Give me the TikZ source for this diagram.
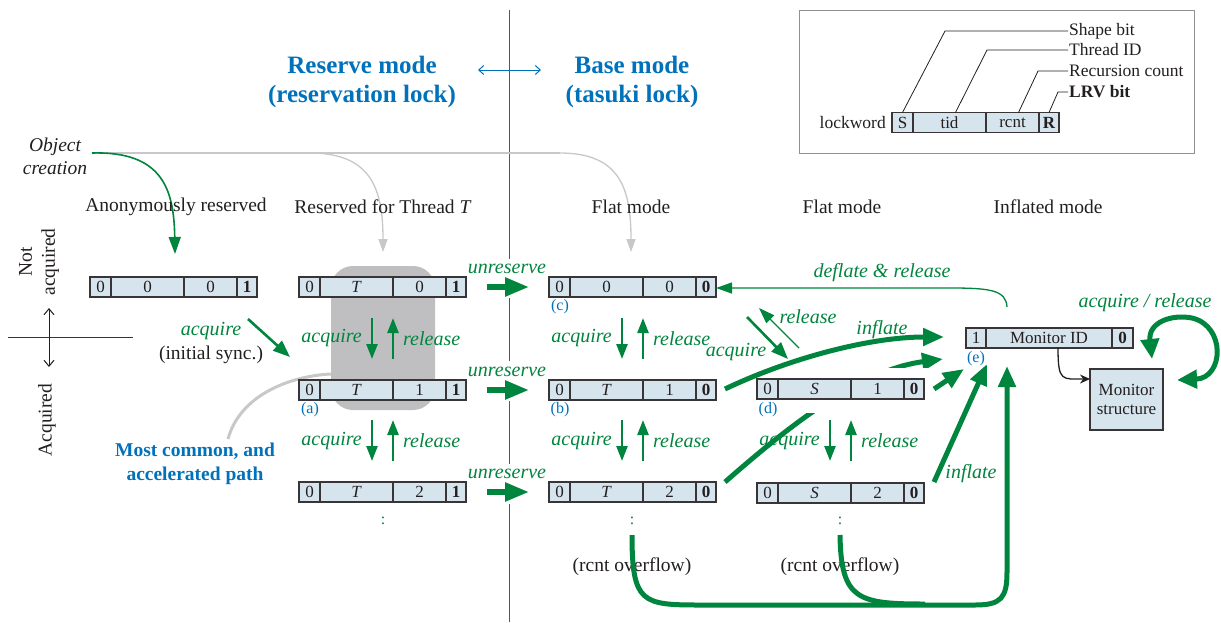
\documentclass[tikz,border=0pt]{standalone}
\usepackage{fontspec}
\setmainfont{Liberation Serif}
\usetikzlibrary{arrows.meta,calc}
\definecolor{grn}{RGB}{0,133,62}
\definecolor{blu}{RGB}{0,114,188}
\definecolor{cellfill}{RGB}{214,228,238}
\definecolor{rgray}{RGB}{191,191,193}
\definecolor{lgray}{RGB}{200,200,200}
\definecolor{txt}{RGB}{35,31,32}
\newcommand\lockwd[7]{%
  \node[cell,minimum width=21pt] (#1-1) at (#2,#3) {#4};
  \node[cell,minimum width=73pt] (#1-2) at (#1-1.east) {#5};
  \node[cell,minimum width=53pt] (#1-3) at (#1-2.east) {#6};
  \node[cell,minimum width=20pt] (#1-4) at (#1-3.east) {#7};
}
\tikzset{
  cell/.style={draw=txt!90, fill=cellfill, line width=1.3pt, minimum height=20pt, inner sep=0pt, outer sep=0pt, anchor=west, text=txt, font=\fontsize{17}{18.5}\selectfont},
  hdr/.style={text=txt, font=\fontsize{19.5}{23}\selectfont},
  glab/.style={text=grn, font=\fontsize{20}{22}\selectfont\itshape, inner sep=1pt},
  tag/.style={text=blu, font=\fontsize{16}{18}\selectfont, inner sep=0pt},
  title/.style={text=blu, font=\fontsize{25}{29}\selectfont\bfseries, align=center},
  legtxt/.style={text=txt, font=\fontsize{17.5}{19}\selectfont, anchor=west, inner sep=1pt},
  smarr/.style={grn, line width=2.4pt, -{Triangle[length=15pt,width=11pt]}},
  bigarr/.style={grn, line width=5pt, -{Triangle[length=21pt,width=17pt]}},
  unres/.style={grn, line width=5.5pt, -{Triangle[length=24pt,width=18pt]}},
  thinarr/.style={grn, line width=1.3pt, -{Triangle[length=16pt,width=11pt]}},
}
\begin{document}
\begin{tikzpicture}[x=1pt,y=-1pt]
\useasboundingbox (0,0) rectangle (1221,622);
\fill[white] (0,0) rectangle (1221,622);

% ---------- titles and divider ----------
\node[title] (resmode) at (362,82) {Reserve mode\\(reservation lock)};
\node[title] (basemode) at (632,82) {Base mode\\(tasuki lock)};
\coordinate (divtop) at (509,10);
\coordinate (divbot) at (509,622);
\draw[blu, line width=1pt] (divtop) -- (divbot);
\coordinate (dl) at (478,70);
\coordinate (dr) at (541,70);
\draw[blu, line width=1pt, {Straight Barb[length=5pt,width=9pt]}-{Straight Barb[length=5pt,width=9pt]}] (dl) -- (dr);

% white gaps in the divider behind "unreserve"
\fill[white] (498,259) rectangle (520,298);
\fill[white] (498,361) rectangle (520,401);
\fill[white] (498,464) rectangle (520,504);

% ---------- legend ----------
\node[draw=txt!50, line width=1pt, minimum width=395pt, minimum height=143pt, inner sep=0pt] (legend) at (996.5,81.5) {};
\lockwd{lw}{892}{122.5}{S}{tid}{rcnt}{\textbf{R}}
\node[legtxt, anchor=east] (lwl) at (887,122.5) {lockword};
\node[legtxt] (shp) at (1068,31) {Shape bit};
\node[legtxt] (thr) at (1068,50) {Thread ID};
\node[legtxt] (rec) at (1068,71) {Recursion count};
\node[legtxt, font=\fontsize{17.5}{19}\selectfont\bfseries] (lrv) at (1068,92) {LRV bit};
\draw[txt, line width=0.8pt] (lw-1.north) -- (945,31) -- (shp.west);
\draw[txt, line width=0.8pt] ($(lw-2.north)+(6,0)$) -- (987,50) -- (thr.west);
\draw[txt, line width=0.8pt] ($(lw-3.north)+(6,0)$) -- (1038,71) -- (rec.west);
\draw[txt, line width=0.8pt] (lw-4.north) -- (1058,92) -- (lrv.west);

% ---------- object creation ----------
\node[hdr, font=\fontsize{19.5}{23}\selectfont\itshape, align=center] (objc) at (55,156) {Object\\creation};
\coordinate (oc) at (92,153);
\coordinate (ocmid) at (310,153);
\coordinate (ocend) at (560,153);
\draw[lgray, line width=1.3pt] (oc) -- (ocend);
\draw[lgray, line width=1.3pt, -{Triangle[length=13pt,width=9pt]}] (ocmid) .. controls (372,153) and (383,190) .. (383,252);
\draw[lgray, line width=1.3pt, -{Triangle[length=13pt,width=9pt]}] (ocend) .. controls (621,153) and (631,190) .. (631,252);
\draw[grn, line width=1.6pt, -{Triangle[length=17pt,width=12pt]}] (oc) .. controls (163,151) and (174,190) .. (175,254);

% ---------- column headers ----------
\node[hdr] (h1) at (176,207) {Anonymously reserved};
\node[hdr] (h2) at (383,207) {Reserved for Thread \textit{T}};
\node[hdr] (h3) at (631,207) {Flat mode};
\node[hdr] (h4) at (842,207) {Flat mode};
\node[hdr] (h5) at (1048,207) {Inflated mode};

% ---------- acquired axis ----------
\node[hdr, rotate=90, align=center] (nacq) at (39,262) {Not\\acquired};
\node[hdr, rotate=90] (acq) at (47,420) {Acquired};
\coordinate (axl) at (8,337);
\coordinate (axr) at (133,337);
\draw[txt!90, line width=0.9pt] (axl) -- (axr);
\coordinate (axt) at (49,308);
\coordinate (axb) at (49,367);
\draw[txt, line width=1pt, {Straight Barb[length=6pt,width=10pt]}-{Straight Barb[length=6pt,width=10pt]}] (axt) -- (axb);

% ---------- accelerated path region ----------
\node[fill=rgray, rounded corners=22pt, minimum width=104pt, minimum height=144pt, inner sep=0pt] (accel) at (383,338) {};
\node[text=blu, font=\fontsize{19.5}{24}\selectfont\bfseries, align=center] (most) at (195,464) {Most common, and\\accelerated path};
\draw[lgray, line width=3pt] (228,439) .. controls (240,395) and (290,376) .. (accel.west |- 0,374);

% ---------- bottom overflow loops (under everything) ----------
\node[text=grn, font=\fontsize{16}{16}\selectfont] (dt1) at (383,521) {:};
\node[text=grn, font=\fontsize{16}{16}\selectfont] (dt2) at (632,521) {:};
\node[text=grn, font=\fontsize{16}{16}\selectfont] (dt3) at (840,521) {:};
\node[hdr] (ov1) at (632,567) {(rcnt overflow)};
\node[hdr] (ov2) at (840,567) {(rcnt overflow)};
\coordinate (p1) at (632,535);
\coordinate (p2) at (840,535);
\coordinate (etip) at (1007,366);
\draw[bigarr] (p1) .. controls (632,603) and (642,605) .. (700,605) -- (975,605) .. controls (1001,605) and (1007,598) .. (1007,572) -- (etip);
\draw[grn, line width=5pt] (p2) .. controls (841,600) and (858,604) .. (925,604);

% ---------- flat row3 -> e (passes behind d) ----------
\coordinate (fcs) at (725,482);
\draw[bigarr] (fcs) .. controls (790,425) and (860,370) .. (943,359);
\fill[white] (745,368) rectangle (928,413);

% ---------- lock words ----------
\lockwd{an}{90}{287}{0}{0}{0}{\textbf{1}}
\lockwd{ra}{299}{287}{0}{\textit{T}}{0}{\textbf{1}}
\lockwd{rb}{299}{390}{0}{\textit{T}}{1}{\textbf{1}}
\lockwd{rc}{299}{492}{0}{\textit{T}}{2}{\textbf{1}}
\lockwd{fa}{549}{287}{0}{0}{0}{\textbf{0}}
\lockwd{fb}{549}{390}{0}{\textit{T}}{1}{\textbf{0}}
\lockwd{fc}{549}{492}{0}{\textit{T}}{2}{\textbf{0}}
\lockwd{da}{757}{389}{0}{\textit{S}}{1}{\textbf{0}}
\lockwd{db}{757}{493}{0}{\textit{S}}{2}{\textbf{0}}
\node[cell,minimum width=20pt] (m-1) at (966,338) {1};
\node[cell,minimum width=126pt] (m-2) at (m-1.east) {Monitor ID};
\node[cell,minimum width=21pt] (m-3) at (m-2.east) {\textbf{0}};
\node[cell, anchor=center, minimum width=73pt, minimum height=61pt, align=center] (ms) at (1126.5,399.5) {Monitor\\structure};

% tags
\node[tag] (ta) at (310,410) {(a)};
\node[tag] (tb) at (560,410) {(b)};
\node[tag] (tc) at (560,307) {(c)};
\node[tag] (td) at (768,410) {(d)};
\node[tag] (te) at (976,359) {(e)};

% ---------- initial acquire ----------
\coordinate (ia1) at (248,319);
\coordinate (ia2) at (290,357);
\draw[grn, line width=2.6pt, -{Triangle[length=17pt,width=13pt]}] (ia1) -- (ia2);
\node[glab] (iacq) at (211,331) {acquire};
\node[hdr] (isync) at (211,355) {(initial sync.)};

% ---------- acquire / release vertical pairs ----------
\foreach \nm/\xd/\xu/\ya/\yb in {r1/372/393/318/359, r2/372/393/420/461, f1/622/643/318/359, f2/622/643/420/461, d2/830/851/420/461}{
  \coordinate (\nm-dt) at (\xd,\ya);
  \coordinate (\nm-db) at (\xd,\yb);
  \coordinate (\nm-ut) at (\xu,\ya);
  \coordinate (\nm-ub) at (\xu,\yb);
  \draw[smarr] (\nm-dt) -- (\nm-db);
  \draw[smarr] (\nm-ub) -- (\nm-ut);
  \node[glab, anchor=east] (\nm-al) at ($(\nm-dt)!0.5!(\nm-db)+(-9,0)$) {acquire};
  \node[glab, anchor=west] (\nm-rl) at ($(\nm-ut)!0.5!(\nm-ub)+(9,0)$) {release};
}

% ---------- unreserve ----------
\foreach \nm/\yy in {u1/287, u2/390, u3/492}{
  \coordinate (\nm-s) at (487,\yy);
  \coordinate (\nm-e) at (529,\yy);
  \draw[unres] (\nm-s) -- (\nm-e);
  \node[glab] (\nm-l) at (507,\yy-18) {unreserve};
}

% ---------- flat <-> d diagonals ----------
\coordinate (rl1) at (799,348);
\coordinate (rl2) at (759,308);
\draw[thinarr] (rl1) -- (rl2);
\coordinate (aq1) at (747,317);
\coordinate (aq2) at (788,359);
\draw[grn, line width=2.6pt, -{Triangle[length=17pt,width=13pt]}] (aq1) -- (aq2);
\node[glab] (rlab) at (808,317) {release};
\node[glab] (alab) at (736,352) {acquire};

% ---------- inflate arrows ----------
\coordinate (fbs) at (725,389);
\draw[bigarr] (fbs) .. controls (790,358) and (870,337) .. (944,337);
\node[glab] (infl1) at (882,330) {inflate};
\coordinate (das) at (934,389);
\coordinate (dae) at (964,369);
\draw[bigarr] (das) -- (dae);
\coordinate (dbs) at (934,482);
\coordinate (dbe) at (987,364);
\draw[bigarr] (dbs) -- (dbe);
\node[glab] (infl2) at (971,474) {inflate};

% ---------- deflate ----------
\coordinate (dfs) at (1007,307);
\draw[thinarr] (dfs) .. controls (1006,290) and (990,288) .. (950,288) -- (fa-4.east |- 0,288);
\node[glab] (dlab) at (882,273) {deflate \& release};

% ---------- monitor ----------
\draw[txt, line width=1.3pt, -{Stealth[length=10pt,width=9pt]}] (1058,348) .. controls (1058,382) and (1062,379) .. (ms.west |- 0,379);
\coordinate (lp1) at (1152,359);
\coordinate (lp2) at (1177,380);
\draw[grn, line width=5pt, {Triangle[length=20pt,width=18pt]}-{Triangle[length=20pt,width=18pt]}] (lp1) .. controls (1148,322) and (1172,314) .. (1192,318) .. controls (1226,326) and (1224,378) .. (lp2);
\node[glab] (arlab) at (1145,303) {acquire / release};
\end{tikzpicture}
\end{document}
